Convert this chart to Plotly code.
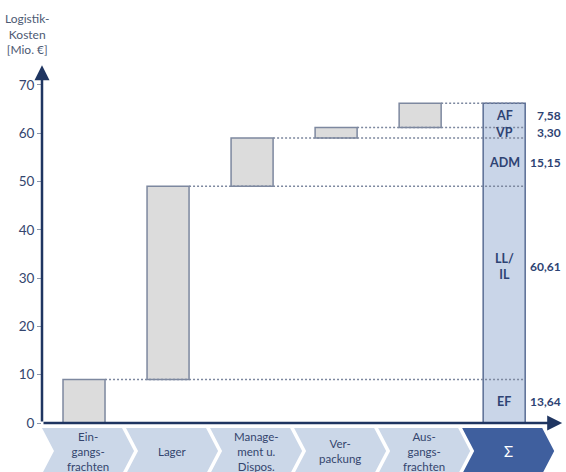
import plotly.graph_objects as go

# ---- data ----
categories = ["Ein-<br>gangs-<br>frachten", "Lager", "Manage-<br>ment u.<br>Dispos.",
              "Ver-<br>packung", "Aus-<br>gangs-<br>frachten", "Σ"]
values = [9.0, 40.0, 10.0, 2.2, 5.0]
sum_labels = ["EF", "LL/<br>IL", "ADM", "VP", "AF"]
share_labels = ["13,64", "60,61", "15,15", "3,30", "7,58"]
y_ticks = [0, 10, 20, 30, 40, 50, 60, 70]

# derived
bases = []
c = 0.0
for v in values:
    bases.append(c)
    c += v
total = c
cum = [b + v for b, v in zip(bases, values)]
xs = list(range(len(values)))
xsum = len(values)

NAVY = "#1f3561"
TXT = "#34456e"
FONT = "Lato, 'Open Sans', sans-serif"

fig = go.Figure()
fig.add_trace(go.Bar(x=xs, y=values, base=bases, width=0.5,
                     marker=dict(color="#dcdcdc", line=dict(color="#7d889f", width=1.5)),
                     hoverinfo="skip", showlegend=False))
fig.add_trace(go.Bar(x=[xsum], y=[total], base=[0], width=0.5,
                     marker=dict(color="#c9d5e8", line=dict(color="#5a6d94", width=1.5)),
                     hoverinfo="skip", showlegend=False))

shapes = []
# dotted connector lines
for i, yv in enumerate(cum):
    shapes.append(dict(type="line", xref="x", yref="y", x0=i + 0.25, x1=xsum + 0.25,
                       y0=yv, y1=yv, layer="above",
                       line=dict(color="#7d889f", width=1.5, dash="2px,2px")))

# chevrons under the axis
top, mid, bot = -5 / 358, -28 / 358, -51 / 358
for i in range(len(categories)):
    x0 = i - 0.5
    p = (f"M {x0},{top} L {x0 + 80/84},{top} L {x0 + 92/84},{mid} "
         f"L {x0 + 80/84},{bot} L {x0},{bot} L {x0 + 12/84},{mid} Z")
    color = "#3f5f9e" if i == len(categories) - 1 else "#cbd7e8"
    shapes.append(dict(type="path", xref="x", yref="paper", path=p,
                       fillcolor=color, line=dict(width=0), layer="below"))

annotations = []
for i, cat in enumerate(categories):
    last = i == len(categories) - 1
    annotations.append(dict(x=i + 0.05, y=mid, xref="x", yref="paper", text=cat,
                            showarrow=False, xanchor="center", yanchor="middle",
                            font=dict(family=FONT, size=15 if last else 11.5,
                                      color="white" if last else TXT)))

# labels in / next to the sum bar
for k, (lab, sh) in enumerate(zip(sum_labels, share_labels)):
    ymid = bases[k] + values[k] / 2
    ysh = 16 if "<br>" in lab else 0
    annotations.append(dict(x=xsum, y=ymid, xref="x", yref="y", text=f"<b>{lab}</b>",
                            showarrow=False, yshift=ysh,
                            font=dict(family=FONT, size=12.5, color="#2e4373")))
    annotations.append(dict(x=5.70, y=ymid, xref="x", yref="y", text=f"<b>{sh}</b>",
                            showarrow=False, xanchor="right", yshift=ysh,
                            font=dict(family=FONT, size=12, color="#2e4373")))

# axis arrows
annotations.append(dict(x=-0.5, y=74.1, ax=-0.5, ay=0, xref="x", yref="y",
                        axref="x", ayref="y", text="", showarrow=True,
                        arrowhead=2, arrowsize=1.2, arrowwidth=2.5, arrowcolor=NAVY))
annotations.append(dict(x=5.69, y=0, ax=-0.5, ay=0, xref="x", yref="y",
                        axref="x", ayref="y", text="", showarrow=True,
                        arrowhead=2, arrowsize=1.2, arrowwidth=2.5, arrowcolor=NAVY))

# axis title
annotations.append(dict(x=-15 / 521, y=1, xref="paper", yref="paper",
                        text="Logistik-<br>Kosten<br>[Mio. €]", showarrow=False,
                        xanchor="center", yanchor="bottom", yshift=6,
                        font=dict(family=FONT, size=12, color="#4d5a73")))

fig.update_layout(
    width=566, height=472, autosize=False,
    margin=dict(l=42, r=3, t=65, b=49),
    paper_bgcolor="white", plot_bgcolor="white",
    barmode="overlay", showlegend=False,
    xaxis=dict(range=[-0.5, 5.7], showgrid=False, zeroline=False, showline=False,
               showticklabels=False, ticks="", fixedrange=True),
    yaxis=dict(range=[0, 74.13], showgrid=False, zeroline=False, showline=False,
               tickvals=y_ticks, ticks="outside", ticklen=4, tickcolor="#8c97ab",
               tickwidth=1, tickfont=dict(family=FONT, size=13.5, color=TXT),
               fixedrange=True),
    shapes=shapes, annotations=annotations,
)

fig.write_html("out.html")
